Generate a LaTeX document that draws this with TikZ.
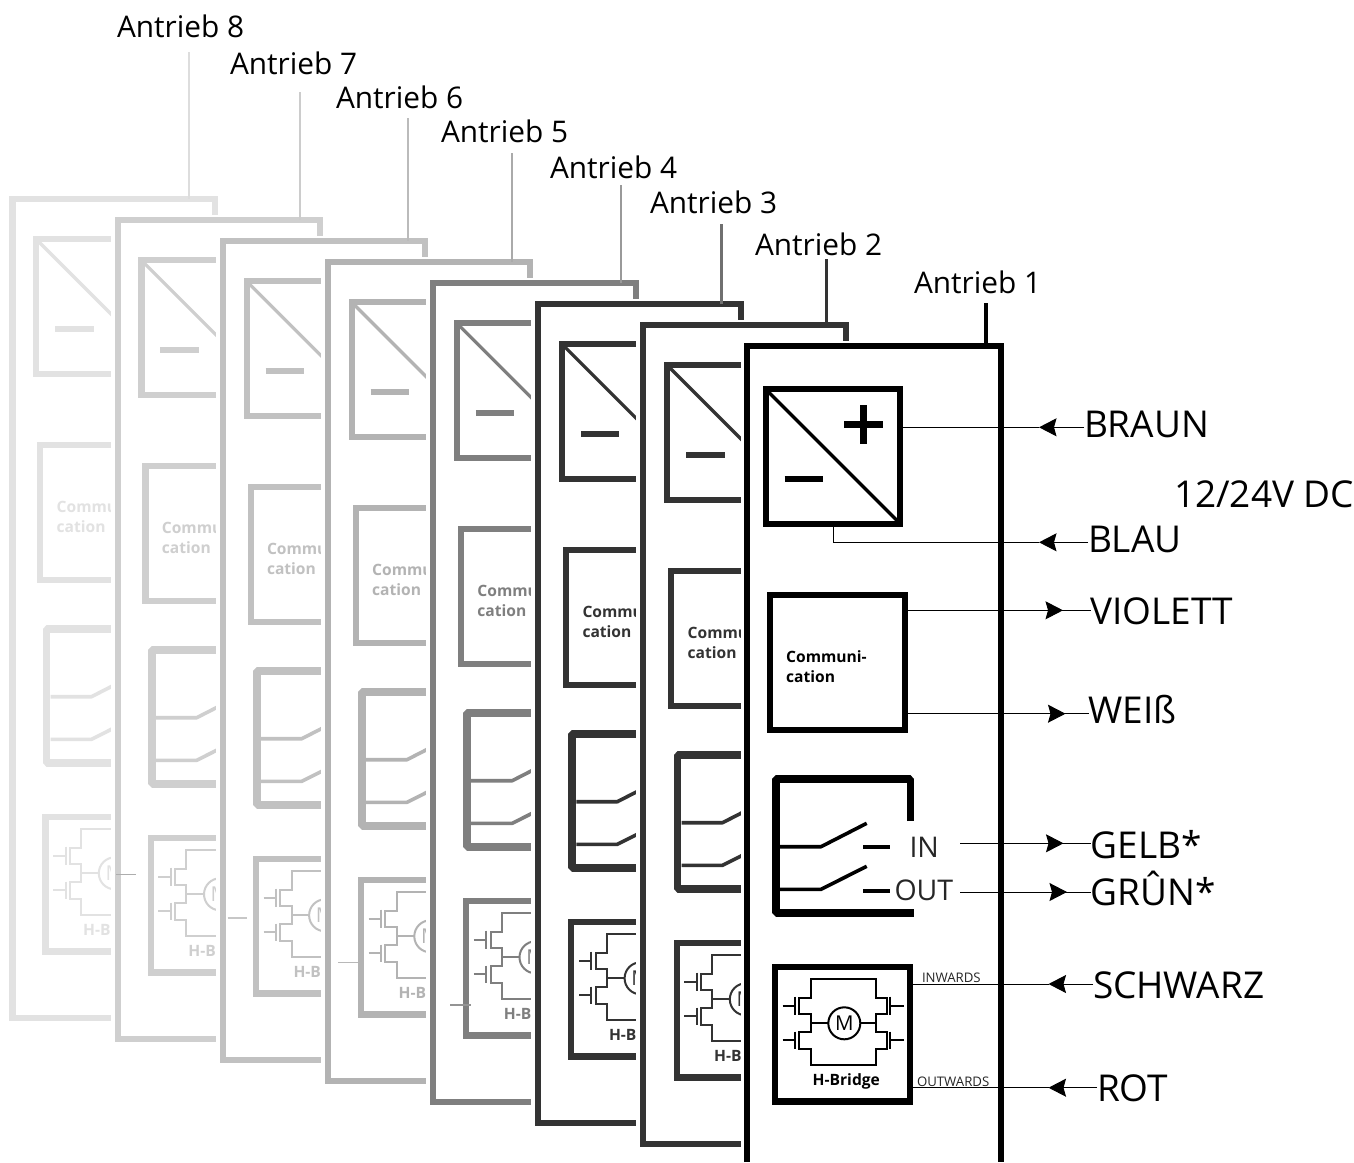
\documentclass[tikz,border=0pt]{standalone}
\usepackage{fontspec}
\setmainfont{Open Sans}
\usetikzlibrary{arrows.meta}
\newcommand\fsz[1]{\fontsize{#1bp}{#1bp}\selectfont}
\newcommand\fszc{\fontsize{15.6bp}{20.6bp}\selectfont\bfseries}
\definecolor{p8}{HTML}{E2E2E2}
\definecolor{p7}{HTML}{CFCFCF}
\definecolor{p6}{HTML}{C1C1C1}
\definecolor{p5}{HTML}{B3B3B3}
\definecolor{p4}{HTML}{7F7F7F}
\definecolor{p3}{HTML}{333333}
\definecolor{p2}{HTML}{333333}
\definecolor{p1}{HTML}{000000}
\definecolor{d8}{HTML}{DDDDDD}
\definecolor{d7}{HTML}{CCCCCC}
\definecolor{d6}{HTML}{BBBBBB}
\definecolor{d5}{HTML}{AAAAAA}
\definecolor{d4}{HTML}{999999}
\definecolor{d3}{HTML}{707070}
\definecolor{d2}{HTML}{333333}
\tikzset{
  blk/.style={draw=pc,fill=white,line width=6.1bp,rectangle,inner sep=0pt,outer sep=0pt},
  thinpart/.style={draw=pc,line width=2bp,line join=miter},
  swline/.style={draw=pc,line width=3.6bp},
  lab/.style={anchor=base west,inner sep=0pt,outer sep=0pt,text=black},
  sig/.style={lab,font=\fsz{37}},
  ant/.style={lab,font=\fsz{29.8}},
  wire/.style={draw=black,line width=1bp},
  inarrow/.style={wire,-{Stealth[length=17.5bp,width=18bp,inset=2.5bp]}},
  panelframe/.style={draw=pc,fill=white,line width=6.1bp,rectangle,inner sep=0pt,outer sep=0pt,minimum width=202.7bp,minimum height=818.6bp},
  stubline/.style={line width=1.6bp},
}
\newcommand\panelcontent[1]{%
  \node[blk,minimum size=134.5bp] (conv#1) at (833,456.5) {};
  \draw[draw=pc,line width=3.2bp] (conv#1.north west) -- (conv#1.south east);
  \draw[draw=pc,line width=6.4bp] (844,424.3) -- (882.6,424.3) (863.3,405) -- (863.3,443.6);
  \draw[draw=pc,line width=6.4bp] (784.7,479) -- (823,479);
  \node[blk,minimum size=135.5bp] (comm#1) at (837.5,662.5) {};
  \node[anchor=west,inner sep=0pt,align=left,text=pc,font=\fszc] (commtext#1) at (786,666.5) {Communi-\\cation};
  \draw[draw=pc,line width=7.8bp,line join=bevel] (910.4,821) -- (910.4,779.2) -- (776,779.2) -- (776,913.2) -- (914.3,913.2);
  \draw[swline,line join=bevel] (780,846.7) -- (821,846.7) -- (866.7,823.3);
  \draw[swline,line width=4bp] (863.3,846.7) -- (890,846.7);
  \draw[swline,line join=bevel] (780,889.3) -- (821,889.3) -- (866.7,866.3);
  \draw[swline,line width=4bp] (863.3,891) -- (890,891);
  \node[blk,minimum size=134.9bp] (hb#1) at (842.5,1034) {};
  \draw[thinpart] (810.7,1014) -- (799.3,1014) -- (799.3,998) -- (810.7,998) -- (810.7,979.3) -- (875.7,979.3) -- (875.7,998) -- (886.7,998) -- (886.7,1014) -- (875.7,1014) -- (875.7,1031.7) -- (886.7,1031.7) -- (886.7,1048.7) -- (875.7,1048.7) -- (875.7,1065.3) -- (810.7,1065.3) -- (810.7,1048.7) -- (799.3,1048.7) -- (799.3,1031.7) -- (810.7,1031.7) -- cycle;
  \draw[thinpart] (795,996.7) -- (795,1015.3) (782.7,1006) -- (795,1006);
  \draw[thinpart] (795,1031.7) -- (795,1049.3) (782.7,1040.3) -- (795,1040.3);
  \draw[thinpart] (890,996.7) -- (890,1015.3) (904,1006) -- (890,1006);
  \draw[thinpart] (890,1031.7) -- (890,1049.3) (904,1040.3) -- (890,1040.3);
  \node[circle,draw=pc,fill=white,line width=2bp,minimum size=32bp,inner sep=0pt,outer sep=0pt,text=pc,font=\fsz{20.5}] (motor#1) at (844.3,1023.3) {M};
  \draw[thinpart] (810.7,1023.3) -- (motor#1.west) (motor#1.east) -- (875.7,1023.3);
  \node[anchor=center,inner sep=0pt,text=pc,font=\fsz{15.6}\bfseries] (hbtext#1) at (846.3,1081.5) {H-Bridge};
}
% #1 index, #2 left, #3 top, #4 #5 content shift, #6 #7 drop line, #8 #9 label
\newcommand\backpanel[9]{%
  \colorlet{pc}{p#1}
  \fill[white] (#2-4,#3-2) rectangle (#2+209,#3+825);
  \node[panelframe] (frame#1) at (#2+104.4,#3+412.4) {};
  \begin{scope}[shift={(#4,#5)}]
    \panelcontent{#1}
  \end{scope}
  \node[ant] (lab#1) at (#8,#9) {Antrieb #1};
  \coordinate (drop#1) at (#6,#7);
  \draw[draw=d#1,line width=2.9bp] (drop#1) -- (drop#1 |- frame#1.north);
}
\begin{document}
\begin{tikzpicture}[x=1bp,y=-1bp]
\useasboundingbox (0,0) rectangle (1354,1162);
\fill[white] (0,0) rectangle (1354,1162);
% back panels, far to near
\backpanel{8}{9.5}{196}{-729.5}{-150}{189}{52}{117}{37}
\backpanel{7}{114.5}{217}{-624.3}{-129}{300}{92}{230}{74}
\backpanel{6}{219.5}{238}{-519.2}{-108}{408}{118}{336}{108}
\backpanel{5}{324.5}{259}{-414}{-87}{512}{153}{441}{142}
\backpanel{4}{430}{280}{-308.8}{-66}{621}{185}{550}{178}
\backpanel{3}{535}{301}{-203.7}{-45}{721.7}{224}{650}{213}
\backpanel{2}{640}{322}{-98.5}{-24}{826.7}{259}{755}{255.4}
% front panel
\colorlet{pc}{p1}
\fill[white] (741,341) rectangle (1004,1162);
\draw[draw=black,fill=white,line width=6.4bp,line join=miter] (746.7,1162) -- (746.7,346.2) -- (1000.9,346.2) -- (1000.9,1162);
\panelcontent{1}
\node[ant] (lab1) at (914,293) {Antrieb 1};
\coordinate (drop1) at (986,303);
\coordinate (frame1top) at (986,343);
\draw[draw=black,line width=3.4bp] (drop1) -- (frame1top);
% signal labels
\node[sig] (braun) at (1084,437) {BRAUN};
\node[sig] (blau) at (1088,552.5) {BLAU};
\node[sig] (violett) at (1090.5,624) {VIOLETT};
\node[sig] (weiss) at (1088.5,723) {WEIß};
\node[sig] (gelb) at (1090.5,858.5) {GELB*};
\node[sig] (gruen) at (1090.5,905) {GRÛN*};
\node[sig] (schwarz) at (1093,998) {SCHWARZ};
\node[sig] (rot) at (1097,1101) {ROT};
\node[sig] (volt) at (1174,507) {12/24V DC};
\node[lab,font=\fsz{28.5},text=black!85] (inlab) at (909.5,857) {IN};
\node[lab,font=\fsz{28.5},text=black!85] (outlab) at (894.5,900) {OUT};
\node[lab,font=\fsz{13.2},text=black!85] (inw) at (922,982) {INWARDS};
\node[lab,font=\fsz{13.2},text=black!85] (outw) at (917,1086.5) {OUTWARDS};
% connectors
\coordinate (brT) at (1039,427.3);
\draw[inarrow] (braun.west |- brT) -- (brT);
\draw[wire] (brT) -- (conv1.east |- brT);
\coordinate (blT) at (1039,542.3);
\draw[inarrow] (blau.west |- blT) -- (blT);
\draw[wire] (blT) -- (833,542.3) -- (conv1.south);
\coordinate (viT) at (1063,610.3);
\draw[wire] (comm1.east |- viT) -- (violett.west |- viT);
\draw[inarrow] (comm1.east |- viT) -- (viT);
\coordinate (weT) at (1065.5,713.7);
\draw[wire] (comm1.east |- weT) -- (weiss.west |- weT);
\draw[inarrow] (comm1.east |- weT) -- (weT);
\coordinate (geT) at (1063.5,843.3);
\coordinate (geS) at (960,843.3);
\draw[wire] (geS) -- (gelb.west |- geT);
\draw[inarrow] (geS) -- (geT);
\coordinate (grT) at (1067,892);
\coordinate (grS) at (960,892);
\draw[wire] (grS) -- (gruen.west |- grT);
\draw[inarrow] (grS) -- (grT);
\coordinate (scT) at (1048.5,984);
\draw[inarrow] (schwarz.west |- scT) -- (scT);
\draw[wire] (scT) -- (hb1.east |- scT);
\coordinate (roT) at (1048.5,1087.7);
\draw[inarrow] (rot.west |- roT) -- (roT);
\draw[wire] (roT) -- (hb1.east |- roT);
% stubs
\coordinate (s1a) at (116,874.3); \coordinate (s1b) at (136,874.3);
\coordinate (s2a) at (227.7,917.7); \coordinate (s2b) at (246.7,917.7);
\coordinate (s3a) at (338.3,962.3); \coordinate (s3b) at (358,962.3);
\coordinate (s4a) at (450,1005); \coordinate (s4b) at (470.7,1005);
\draw[stubline,draw=black!32] (s1a) -- (s1b);
\draw[stubline,draw=black!22] (s2a) -- (s2b);
\draw[stubline,draw=black!28] (s3a) -- (s3b);
\draw[stubline,draw=black!42] (s4a) -- (s4b);
\end{tikzpicture}
\end{document}
